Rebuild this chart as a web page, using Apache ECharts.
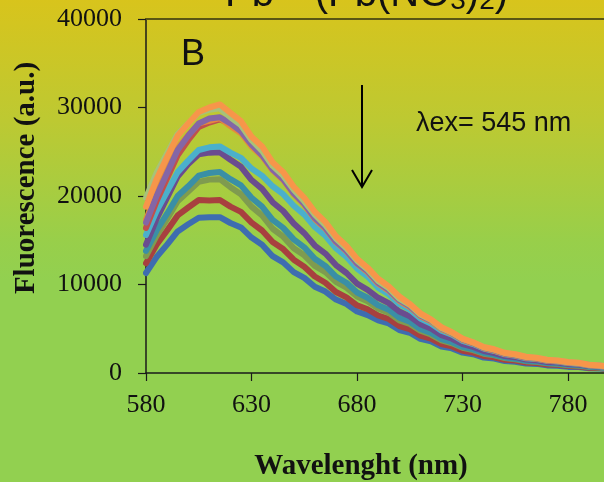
<!DOCTYPE html>
<html>
<head>
<meta charset="utf-8">
<script src="https://cdn.jsdelivr.net/npm/echarts@6/dist/echarts.min.js"></script>
<style>
  html, body { margin: 0; padding: 0; }
  #chart { width: 604px; height: 482px; }
</style>
</head>
<body>
<div id="chart"></div>
<script>
// Emission wavelengths (nm)
const wavelengths = [580, 585, 590, 595, 600, 605, 610, 615, 620, 625, 630, 635, 640, 645, 650, 655, 660, 665, 670, 675, 680, 685, 690, 695, 700, 705, 710, 715, 720, 725, 730, 735, 740, 745, 750, 755, 760, 765, 770, 775, 780, 785, 790, 795, 800];

// Fluorescence spectra (a.u.), from the lowest to the highest curve
const spectrumBlue = [11300, 13100, 14500, 16000, 16800, 17550, 17600, 17600, 16950, 16450, 15300, 14500, 13200, 12500, 11400, 10750, 9750, 9200, 8300, 7800, 6950, 6550, 5950, 5600, 4850, 4550, 3850, 3580, 3000, 2780, 2300, 2120, 1750, 1630, 1350, 1270, 1060, 1030, 860, 830, 690, 670, 540, 510, 420];
const spectrumRed = [12400, 14500, 16100, 17800, 18700, 19550, 19500, 19550, 18800, 18200, 17000, 16100, 14800, 14000, 12800, 12000, 10900, 10200, 9150, 8550, 7650, 7200, 6500, 6100, 5300, 4950, 4220, 3880, 3280, 3010, 2520, 2310, 1920, 1780, 1490, 1400, 1190, 1130, 960, 920, 780, 730, 600, 560, 460];
const spectrumOlive = [13200, 15500, 17400, 19400, 20500, 21600, 21850, 21900, 21000, 20200, 18800, 17800, 16300, 15400, 14100, 13300, 12100, 11400, 10300, 9650, 8650, 8100, 7300, 6800, 5950, 5550, 4770, 4350, 3700, 3360, 2850, 2580, 2180, 1990, 1690, 1560, 1340, 1260, 1090, 1020, 880, 820, 680, 620, 520];
const spectrumTeal = [13800, 16100, 18000, 20000, 21100, 22300, 22600, 22700, 21900, 21200, 19800, 18800, 17300, 16400, 15100, 14200, 12900, 12100, 10900, 10200, 9100, 8500, 7650, 7150, 6250, 5800, 4970, 4530, 3840, 3480, 2950, 2670, 2260, 2060, 1760, 1620, 1390, 1310, 1130, 1080, 920, 870, 710, 650, 540];
const spectrumIndigo = [14500, 17400, 19800, 22200, 23600, 24700, 24900, 24950, 24100, 23300, 21800, 20800, 19300, 18300, 16900, 15800, 14400, 13500, 12200, 11300, 10100, 9400, 8500, 7900, 6950, 6400, 5520, 5030, 4280, 3870, 3260, 2950, 2490, 2260, 1920, 1790, 1530, 1440, 1250, 1190, 1020, 960, 790, 720, 600];
const spectrumAqua = [15600, 18300, 20500, 22700, 24000, 25200, 25500, 25600, 24900, 24300, 23100, 22300, 21100, 20200, 18900, 17900, 16500, 15500, 14100, 13100, 11800, 10900, 9650, 8900, 7800, 7150, 6150, 5580, 4780, 4320, 3640, 3270, 2760, 2490, 2110, 1940, 1670, 1570, 1370, 1300, 1120, 1040, 850, 770, 640];
const spectrumCrimson = [16400, 19400, 22000, 24600, 26300, 27800, 28300, 28650, 28200, 27600, 26200, 25000, 23400, 22300, 20700, 19500, 17900, 16750, 15200, 14100, 12700, 11700, 10350, 9500, 8300, 7600, 6550, 5940, 5030, 4510, 3790, 3380, 2840, 2560, 2180, 2010, 1750, 1640, 1430, 1350, 1170, 1090, 890, 810, 680];
const spectrumAmber = [17300, 20400, 22900, 25400, 26900, 28200, 28500, 28800, 27900, 27100, 25600, 24500, 22900, 21800, 20200, 19000, 17400, 16300, 14800, 13750, 12350, 11400, 10100, 9300, 8150, 7450, 6400, 5840, 4950, 4440, 3740, 3350, 2820, 2540, 2160, 1990, 1730, 1630, 1420, 1340, 1160, 1080, 880, 800, 670];
const spectrumPurple = [17000, 20000, 22600, 25200, 26800, 28200, 28750, 28900, 28200, 27300, 25800, 24600, 23000, 21900, 20300, 19100, 17500, 16400, 14850, 13800, 12400, 11500, 10200, 9400, 8250, 7550, 6500, 5940, 5030, 4510, 3790, 3400, 2860, 2590, 2210, 2030, 1770, 1660, 1450, 1370, 1190, 1110, 900, 820, 690];
const spectrumSage = [19800, 22600, 24800, 27000, 28200, 29400, 29750, 29900, 28900, 28000, 26300, 25100, 23400, 22300, 20700, 19400, 17900, 16700, 15200, 14100, 12700, 11700, 10400, 9600, 8400, 7700, 6600, 6000, 5080, 4560, 3840, 3450, 2900, 2640, 2260, 2080, 1820, 1710, 1490, 1410, 1220, 1130, 920, 840, 710];
const spectrumOrange = [18790, 21900, 24400, 26800, 28200, 29500, 30000, 30350, 29400, 28450, 26700, 25600, 23800, 22700, 21050, 19800, 18200, 17050, 15450, 14350, 12900, 11900, 10650, 9780, 8640, 7800, 6740, 6060, 5170, 4600, 3880, 3470, 2940, 2680, 2280, 2120, 1840, 1730, 1500, 1420, 1240, 1150, 940, 840, 700];

// Axis ticks
const xTicks = [580, 630, 680, 730, 780];
const yTicks = [0, 10000, 20000, 30000, 40000];

const spectra = [
  { data: spectrumBlue, color: '#3e6db0' },
  { data: spectrumRed, color: '#a8403f' },
  { data: spectrumOlive, color: '#7f9b4f' },
  { data: spectrumTeal, color: '#3a8fa6' },
  { data: spectrumIndigo, color: '#6a4c8f' },
  { data: spectrumAqua, color: '#4bb0cb' },
  { data: spectrumCrimson, color: '#c0504d' },
  { data: spectrumAmber, color: '#e5893e' },
  { data: spectrumPurple, color: '#8466a6' },
  { data: spectrumSage, color: '#a7c27a' },
  { data: spectrumOrange, color: '#f7964a' }
];

const serif = '"Liberation Serif", "Times New Roman", serif';
const sans = '"Liberation Sans", Arial, sans-serif';

const chart = echarts.init(document.getElementById('chart'), null, { renderer: 'canvas' });

chart.setOption({
  animation: false,
  grid: { left: 146, top: 19, right: 0, bottom: 109, containLabel: false },
  xAxis: [
    {
      type: 'value',
      min: xTicks[0],
      max: 797,
      interval: 50,
      axisLine: { show: true, lineStyle: { color: '#1a1a1a', width: 1.5 } },
      axisTick: { show: true, inside: false, length: 8, lineStyle: { color: '#1a1a1a', width: 1.2 } },
      axisLabel: {
        margin: 19,
        color: '#111',
        fontFamily: serif,
        fontSize: 26,
        showMaxLabel: false,
        formatter: v => (xTicks.indexOf(v) >= 0 ? String(v) : '')
      },
      splitLine: { show: false }
    },
    {
      type: 'value',
      position: 'top',
      min: xTicks[0],
      max: 797,
      axisLine: { show: true, lineStyle: { color: '#5a5613', width: 2 } },
      axisTick: { show: false },
      axisLabel: { show: false },
      splitLine: { show: false }
    }
  ],
  yAxis: {
    type: 'value',
    min: yTicks[0],
    max: yTicks[yTicks.length - 1],
    interval: 10000,
    axisLine: { show: true, lineStyle: { color: '#1a1a1a', width: 1.5 } },
    axisTick: { show: true, inside: false, length: 8, lineStyle: { color: '#1a1a1a', width: 1.2 } },
    axisLabel: { margin: 24, color: '#111', fontFamily: serif, fontSize: 26, formatter: v => String(v) },
    splitLine: { show: false }
  },
  series: spectra.map(s => ({
    type: 'line',
    data: wavelengths.map((w, i) => [w, s.data[i]]),
    showSymbol: false,
    symbol: 'none',
    smooth: false,
    clip: true,
    lineStyle: { color: s.color, width: 6, join: 'round', cap: 'round' },
    z: 3
  })),
  graphic: [
    {
      type: 'rect',
      z: -10,
      silent: true,
      shape: { x: 0, y: 0, width: 604, height: 482 },
      style: {
        fill: {
          type: 'linear', x: 0, y: 0, x2: 0, y2: 1,
          colorStops: [
            { offset: 0, color: '#d8c41c' },
            { offset: 0.25, color: '#bdc932' },
            { offset: 0.5, color: '#98cf4a' },
            { offset: 0.58, color: '#92d050' },
            { offset: 1, color: '#92d050' }
          ]
        }
      }
    },
    {
      type: 'text',
      z: 10,
      left: 225,
      top: -25,
      style: {
        text: 'Pb{sup|2+} (Pb(NO{sub|3}){sub|2})',
        font: '40px ' + sans,
        fill: '#111',
        lineHeight: 40,
        rich: {
          sup: { fontSize: 26, fontFamily: sans, lineHeight: 10, verticalAlign: 'top', fill: '#111' },
          sub: { fontSize: 28, fontFamily: sans, lineHeight: 20, verticalAlign: 'bottom', fill: '#111' }
        }
      }
    },
    {
      type: 'text',
      z: 10,
      x: 181,
      y: 55.5,
      style: { text: 'B', font: '36px ' + sans, fill: '#111', textAlign: 'left', textVerticalAlign: 'middle' }
    },
    {
      type: 'text',
      z: 10,
      x: 416,
      y: 124,
      style: { text: 'λex= 545 nm', font: '27px ' + sans, fill: '#111', textAlign: 'left', textVerticalAlign: 'middle' }
    },
    {
      type: 'polyline',
      z: 10,
      shape: { points: [[362, 85], [362, 187]] },
      style: { stroke: '#000', lineWidth: 2, fill: null }
    },
    {
      type: 'polyline',
      z: 10,
      shape: { points: [[352, 170], [362, 187], [372, 170]] },
      style: { stroke: '#000', lineWidth: 2, fill: null }
    },
    {
      type: 'text',
      z: 10,
      x: 27,
      y: 178,
      rotation: Math.PI / 2,
      style: { text: 'Fluorescence (a.u.)', font: 'bold 29px ' + serif, fill: '#111', textAlign: 'center', textVerticalAlign: 'middle' }
    },
    {
      type: 'text',
      z: 10,
      x: 361,
      y: 467,
      style: { text: 'Wavelenght (nm)', font: 'bold 29px ' + serif, fill: '#111', textAlign: 'center', textVerticalAlign: 'middle' }
    }
  ]
});
</script>
</body>
</html>
